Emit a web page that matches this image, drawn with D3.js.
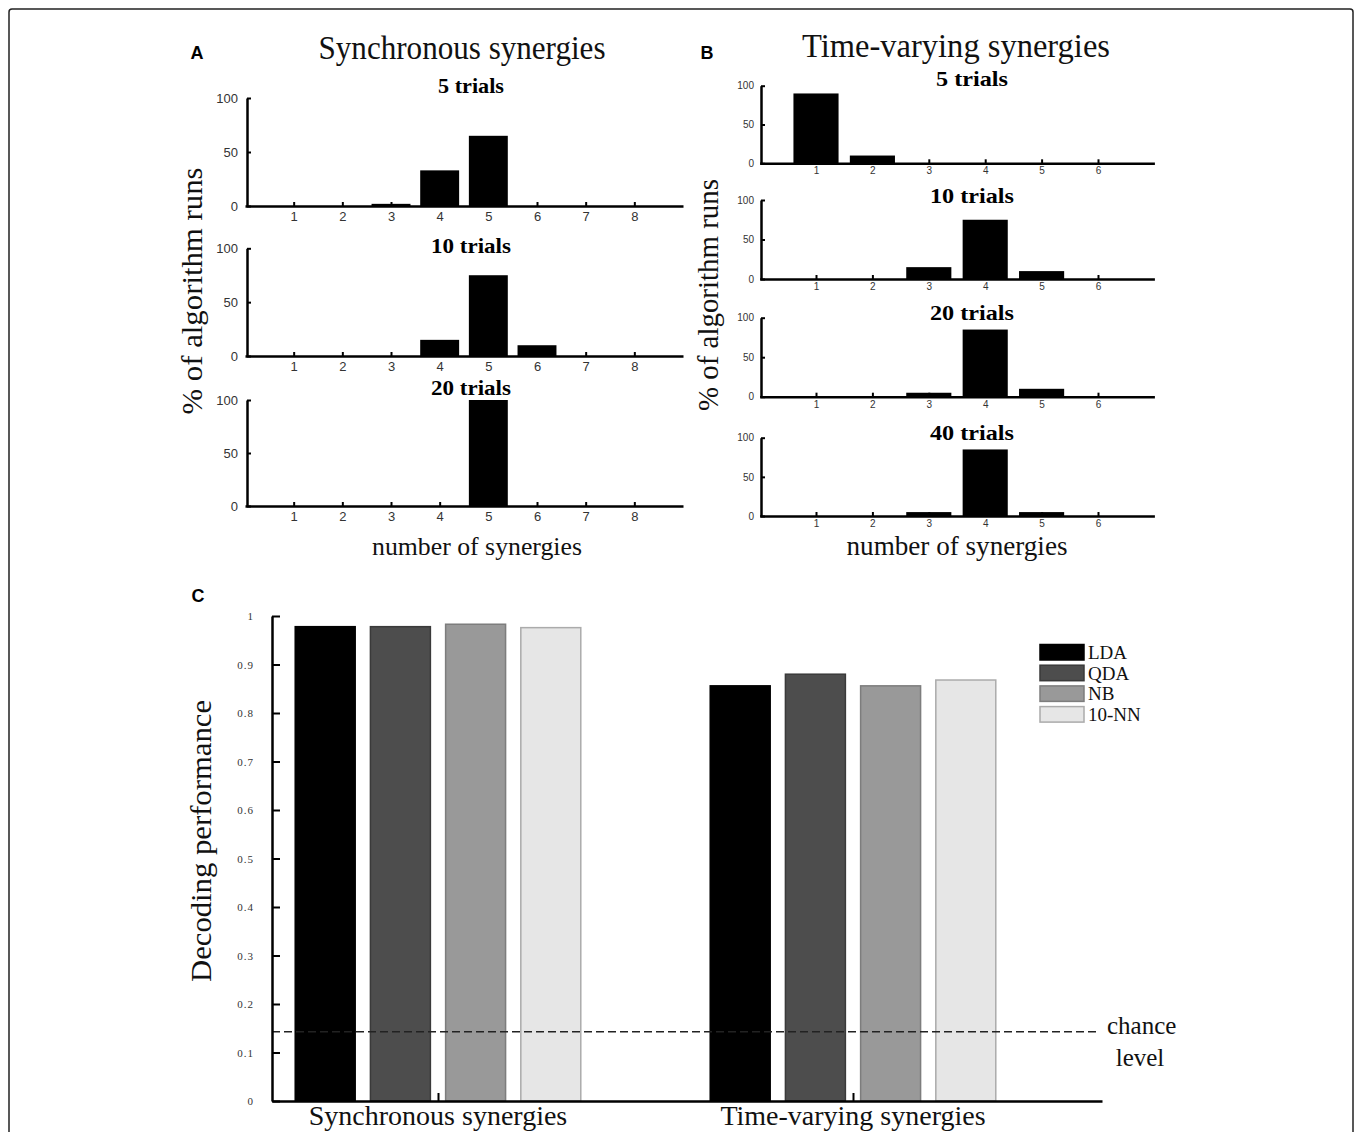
<!DOCTYPE html>
<html><head><meta charset="utf-8">
<script src="https://cdn.jsdelivr.net/npm/d3@7"></script>
<style>body{margin:0;background:#fff} svg{display:block}</style>
</head><body>
<svg id="chart" width="1356" height="1132"></svg>
<script>
// ---------- data ----------
const synCats = [1,2,3,4,5,6,7,8];
const synTrials = ["5 trials","10 trials","20 trials"];
const syn5 = [0,0,2,33,65,0,0,0];
const syn10 = [0,0,0,15,75,10,0,0];
const syn20 = [0,0,0,0,100,0,0,0];
const tvCats = [1,2,3,4,5,6];
const tvTrials = ["5 trials","10 trials","20 trials","40 trials"];
const tv5 = [90,10,0,0,0,0];
const tv10 = [0,0,15,75,10,0];
const tv20 = [0,0,5,85,10,0];
const tv40 = [0,0,5,85,5,0];
const pctTicks = [0,50,100];
const groups = ["Synchronous synergies","Time-varying synergies"];
const classifiers = ["LDA","QDA","NB","10-NN"];
const perfSync = [0.978,0.978,0.983,0.976];
const perfTV = [0.856,0.880,0.856,0.868];
const chanceLevel = 1/7;
const perfTicks = [0,0.1,0.2,0.3,0.4,0.5,0.6,0.7,0.8,0.9,1];

const fills = ["#000000","#4d4d4d","#999999","#e6e6e6"];
const strokes = ["#000000","#3a3a3a","#7d7d7d","#ababab"];
const SERIF = "'Liberation Serif','Times New Roman',serif";
const SANS = "'Liberation Sans',Arial,sans-serif";

const svg = d3.select("#chart");

// frame
svg.append("rect").attr("x",9).attr("y",9).attr("width",1344).attr("height",1150)
  .attr("rx",3).attr("fill","none").attr("stroke","#222").attr("stroke-width",1.5);

function txt(str, x, y, o) {
  const t = svg.append("text").attr("x",x).attr("y",y).text(str)
    .attr("font-family", o.family || SERIF).attr("font-size", o.size)
    .attr("font-weight", o.weight || "normal").attr("fill", o.fill || "#111")
    .attr("text-anchor", o.anchor || "middle");
  if (o.len) t.attr("textLength", o.len).attr("lengthAdjust","spacingAndGlyphs");
  if (o.rotate) t.attr("transform", `rotate(-90,${x},${y})`);
  return t;
}

function hist(values, cats, xDom, xRng, axisX, yTop, yBot, tickFs, padX) {
  const g = svg.append("g");
  const x = d3.scaleLinear().domain(xDom).range(xRng);
  const y = d3.scaleLinear().domain([0,100]).range([yBot,yTop]);
  g.selectAll("rect.bar").data(cats).join("rect").attr("class","bar")
    .attr("x", c => x(c-0.4)).attr("width", c => x(c+0.4)-x(c-0.4))
    .attr("y", (c,i) => y(values[i])).attr("height", (c,i) => yBot - y(values[i]))
    .attr("fill","#000");
  const xa = g.append("g").attr("transform",`translate(0,${yBot})`)
    .call(d3.axisBottom(x).tickValues(cats).tickFormat(d3.format("d"))
      .tickSizeInner(-4).tickSizeOuter(0).tickPadding(padX));
  const ya = g.append("g").attr("transform",`translate(${axisX},0)`)
    .call(d3.axisLeft(y).tickValues(pctTicks).tickFormat(d3.format("d"))
      .tickSizeInner(-4).tickSizeOuter(0).tickPadding(tickFs>11?9:7));
  [xa,ya].forEach(a => {
    a.select(".domain").attr("stroke","#000").attr("stroke-width",2.5);
    a.selectAll(".tick line").attr("stroke","#000").attr("stroke-width",2);
    a.selectAll(".tick text").attr("font-family",SANS).attr("font-size",tickFs).attr("fill","#333");
  });
}

// ---------- Panel A ----------
txt("A", 197, 59, {family:SANS, size:18, weight:"bold", fill:"#000"});
txt("Synchronous synergies", 462, 59, {size:33, len:287});
const synVals = [syn5, syn10, syn20];
const synGeom = [[98,206],[248.3,356],[400,506]];
const synTitleY = [93, 253, 395];
synVals.forEach((v,i) => {
  hist(v, synCats, [0,9], [245,683], 247, synGeom[i][0], synGeom[i][1], 13, 6);
  txt(synTrials[i], 471, synTitleY[i], {size:22, weight:"bold", fill:"#000", len: i===0?66:80});
});
txt("% of algorithm runs", 202, 291, {size:30, len:247, rotate:true});
txt("number of synergies", 477, 555, {size:26, len:210});

// ---------- Panel B ----------
txt("B", 707, 59, {family:SANS, size:18, weight:"bold", fill:"#000"});
txt("Time-varying synergies", 956, 57, {size:33, len:308});
const tvVals = [tv5, tv10, tv20, tv40];
const tvGeom = [[85.7,163.3],[200,279],[317.7,396.7],[437.7,516]];
const tvTitleY = [86, 203, 320, 440];
tvVals.forEach((v,i) => {
  hist(v, tvCats, [0,7], [759.6,1154.4], 761, tvGeom[i][0], tvGeom[i][1], 10, 4);
  txt(tvTrials[i], 972, tvTitleY[i], {size:21, weight:"bold", fill:"#000", len: i===0?72:84});
});
txt("% of algorithm runs", 718, 295, {size:29, len:232, rotate:true});
txt("number of synergies", 957, 555, {size:27, len:221});

// ---------- Panel C ----------
txt("C", 198, 602, {family:SANS, size:18, weight:"bold", fill:"#000"});
const xc = d3.scaleLinear().domain([0.6,2.6]).range([272,1102]);
const yc = d3.scaleLinear().domain([0,1]).range([1101,616]);
const step = 0.1812, bw = 0.1445;
const gc = svg.append("g");
[perfSync, perfTV].forEach((vals, gi) => {
  gc.selectAll(null).data(classifiers).join("rect")
    .attr("x", (c,i) => xc(gi+1 + (i-1.5)*step - bw/2))
    .attr("width", xc(bw) - xc(0))
    .attr("y", (c,i) => yc(vals[i]))
    .attr("height", (c,i) => yc(0) - yc(vals[i]))
    .attr("fill", (c,i) => fills[i]).attr("stroke", (c,i) => strokes[i]).attr("stroke-width",1.5);
});
// chance line
gc.append("line").attr("x1", xc(0.6)).attr("x2", xc(2.59)).attr("y1", yc(chanceLevel)).attr("y2", yc(chanceLevel))
  .attr("stroke","#222").attr("stroke-width",1.5).attr("stroke-dasharray","8,4");
const xca = gc.append("g").attr("transform",`translate(0,${yc(0)})`)
  .call(d3.axisBottom(xc).tickValues([1,2]).tickFormat("").tickSizeInner(-8).tickSizeOuter(0));
const yca = gc.append("g").attr("transform",`translate(${xc(0.6)},0)`)
  .call(d3.axisLeft(yc).tickValues(perfTicks).tickFormat(d => d===0?"0":d===1?"1":d3.format(".1f")(d))
    .tickSizeInner(-8).tickSizeOuter(0).tickPadding(18));
[xca,yca].forEach(a => {
  a.select(".domain").attr("stroke","#000").attr("stroke-width",2.5);
  a.selectAll(".tick line").attr("stroke","#000").attr("stroke-width",2);
  a.selectAll(".tick text").attr("font-family",SERIF).attr("font-size",11).attr("fill","#333").attr("letter-spacing","1px");
});
groups.forEach((g,i) => txt(g, xc(i+1), 1125, {size:28}));
txt("Decoding performance", 211, 841, {size:30, len:282, rotate:true});
txt("chance", 1107, 1034, {size:25, anchor:"start"});
txt("level", 1140, 1066, {size:25});

// legend
classifiers.forEach((c,i) => {
  svg.append("rect").attr("x",1040).attr("y",644.5 + i*20.7).attr("width",44).attr("height",15.5)
    .attr("fill",fills[i]).attr("stroke",strokes[i]).attr("stroke-width",1.5);
  txt(c, 1088, 659 + i*20.7, {size:19, anchor:"start"});
});
</script>
</body></html>
